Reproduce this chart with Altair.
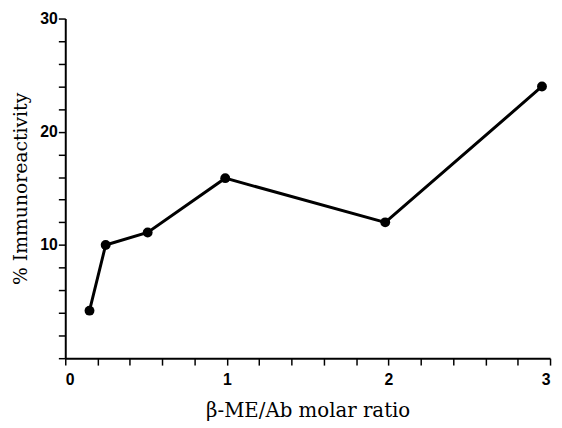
import altair as alt
import pandas as pd

x_vals = [0.15, 0.25, 0.51, 0.99, 1.98, 2.95]
y_vals = [4.2, 10.0, 11.1, 15.9, 12.0, 24.0]

x_ticks = [round(i * 0.2, 1) for i in range(16)]
y_ticks = list(range(0, 31, 2))

df = pd.DataFrame({"ratio": x_vals, "immuno": y_vals})

x_enc = alt.X(
    "ratio:Q",
    scale=alt.Scale(domain=[0, 3], nice=False, zero=False),
    axis=alt.Axis(
        title="β-ME/Ab molar ratio",
        values=x_ticks,
        tickCount=100,
        labelOverlap=False,
        labelExpr="abs(datum.value - round(datum.value)) < 0.01 ? format(datum.value, 'd') : ''",
        grid=False,
        tickSize=7,
        labelPadding=7,
        titlePadding=13,
        titleFontSize=20,
    ),
)
y_enc = alt.Y(
    "immuno:Q",
    scale=alt.Scale(domain=[0, 30], nice=False),
    axis=alt.Axis(
        title="% Immunoreactivity",
        values=y_ticks,
        tickCount=100,
        labelOverlap=False,
        labelExpr="datum.value > 0 && datum.value % 10 == 0 ? format(datum.value, 'd') : ''",
        grid=False,
        tickSize=7,
        labelPadding=1,
        titlePadding=9,
        titleFontSize=19,
    ),
)

line = alt.Chart(df).mark_line(color="black", strokeWidth=3).encode(x=x_enc, y=y_enc)
pts = alt.Chart(df).mark_circle(color="black", size=100, opacity=1).encode(x="ratio:Q", y="immuno:Q")

chart = (
    alt.layer(line, pts)
    .properties(
        width=491,
        height=344,
        autosize=alt.AutoSizeParams(type="none"),
        padding={"left": 58, "top": 8, "right": 4, "bottom": 66},
    )
    .configure_view(stroke=None)
    .configure_axis(
        domainColor="black",
        domainWidth=2,
        tickColor="black",
        tickWidth=1.5,
        labelFont="Liberation Sans",
        labelFontWeight="bold",
        labelFontSize=16,
        labelColor="black",
        titleFont="DejaVu Serif",
        titleFontWeight="normal",
        titleColor="black",
    )
)

chart.save("out.html", embed_options={"renderer": "svg", "actions": False})
